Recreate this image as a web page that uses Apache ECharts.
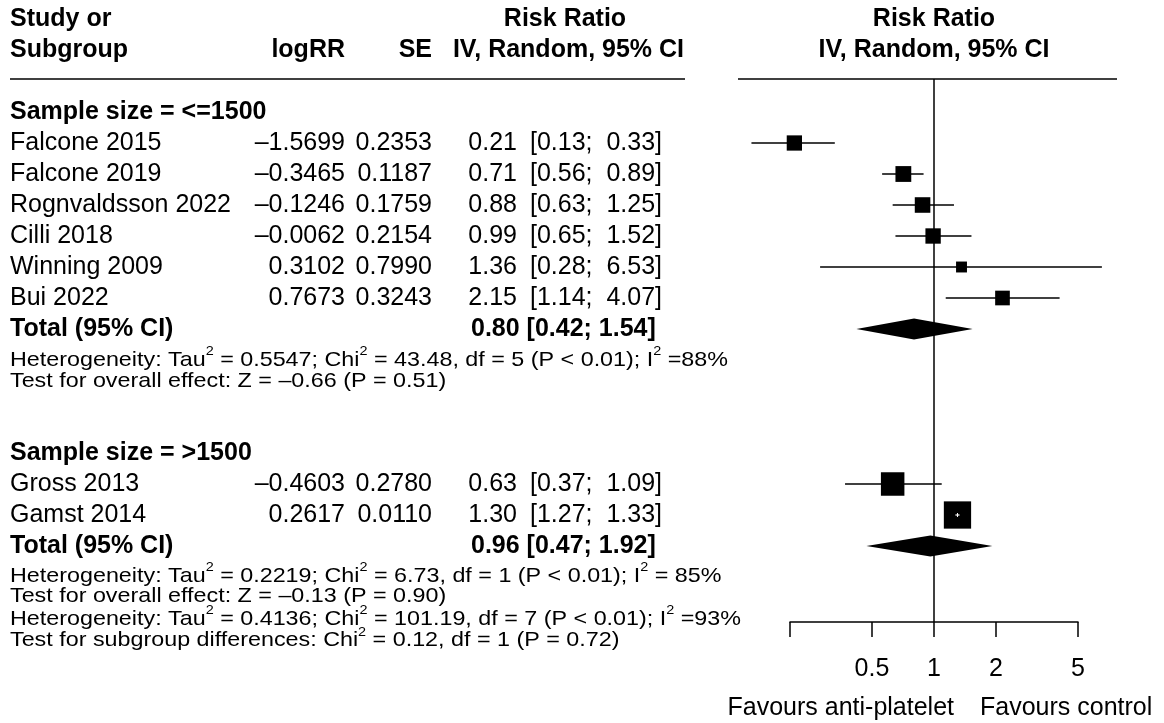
<!DOCTYPE html>
<html>
<head>
<meta charset="utf-8">
<title>Forest plot</title>
<script src="https://cdn.jsdelivr.net/npm/echarts@6/dist/echarts.min.js"></script>
<style>
  html, body { margin: 0; padding: 0; background: #fff; }
  #chart { width: 1164px; height: 723px; }
</style>
</head>
<body>
<div id="chart"></div>
<script>
// ---- data ----
const studyNames = ["Falcone 2015", "Falcone 2019", "Rognvaldsson 2022", "Cilli 2018",
  "Winning 2009", "Bui 2022", "Gross 2013", "Gamst 2014"];
const studyGroup = [0, 0, 0, 0, 0, 0, 1, 1];
const logRR = [-1.5699, -0.3465, -0.1246, -0.0062, 0.3102, 0.7673, -0.4603, 0.2617];
const seLogRR = [0.2353, 0.1187, 0.1759, 0.2154, 0.7990, 0.3243, 0.2780, 0.0110];
const riskRatio = [0.21, 0.71, 0.88, 0.99, 1.36, 2.15, 0.63, 1.30];
const ciLower = [0.13, 0.56, 0.63, 0.65, 0.28, 1.14, 0.37, 1.27];
const ciUpper = [0.33, 0.89, 1.25, 1.52, 6.53, 4.07, 1.09, 1.33];
// weight within subgroup (%)
const weightPct = [18.0, 19.3, 18.7, 18.2, 9.2, 16.6, 42.6, 57.4];

const groupLabels = ["Sample size = <=1500", "Sample size = >1500"];
const pooledRR = [0.80, 0.96];
const pooledLower = [0.42, 0.47];
const pooledUpper = [1.54, 1.92];

const groupNotes = [
  ["Heterogeneity: Tau{s|2} = 0.5547; Chi{s|2} = 43.48, df = 5 (P < 0.01); I{s|2} =88%",
   "Test for overall effect: Z = \u20130.66 (P = 0.51)"],
  ["Heterogeneity: Tau{s|2} = 0.2219; Chi{s|2} = 6.73, df = 1 (P < 0.01); I{s|2} = 85%",
   "Test for overall effect: Z = \u20130.13 (P = 0.90)"]
];
const overallNotes = [
  "Heterogeneity: Tau{s|2} = 0.4136; Chi{s|2} = 101.19, df = 7 (P < 0.01); I{s|2} =93%",
  "Test for subgroup differences: Chi{s|2} = 0.12, df = 1 (P = 0.72)"
];

const tickValues = [0.2, 0.5, 1, 2, 5];
const tickLabels = [0.5, 1, 2, 5];
const favourLabels = ["Favours anti-platelet", "Favours control"];

// ---- layout ----
const FONT = "'Liberation Sans', Arial, Helvetica, sans-serif";
const ROW_MIN = -33 / 31;   // header rule sits at the top of the grid
const ROW_MAX = 510 / 31;   // x axis at the bottom of the grid
const COL = { name: 10, logRR: 345, se: 432, est: 517, lo: 530, hi: 662, pooled: 471 };
const groupStart = [0, 11];
const noteOffset = [[1.0, 1.68], [0.97, 1.62]];
const NOTE_SIZE = 21, NOTE_STRETCH = 1.11;

function fmtSigned(v, d) {
  const s = Math.abs(v).toFixed(d);
  return v < 0 ? "\u2013" + s : s;
}

// table rows: each row has a vertical position r and a list of text cells
const tableRows = [];
tableRows.push({ r: ROW_MIN, rule: true, cells: [] });
tableRows.push({ r: -3, cells: [
  { x: COL.name, text: "Study or", bold: true },
  { x: 565, text: "Risk Ratio", bold: true, align: "center" },
  { x: 934, text: "Risk Ratio", bold: true, align: "center" }
] });
tableRows.push({ r: -2, cells: [
  { x: COL.name, text: "Subgroup", bold: true },
  { x: COL.logRR, text: "logRR", bold: true, align: "right" },
  { x: COL.se, text: "SE", bold: true, align: "right" },
  { x: 684, text: "IV, Random, 95% CI", bold: true, align: "right" },
  { x: 934, text: "IV, Random, 95% CI", bold: true, align: "center" }
] });

const studyRow = [];
const pooledRow = [];
groupLabels.forEach((label, g) => {
  const start = groupStart[g];
  tableRows.push({ r: start, cells: [{ x: COL.name, text: label, bold: true }] });
  let k = 0;
  studyNames.forEach((name, i) => {
    if (studyGroup[i] !== g) return;
    k++;
    const r = start + k;
    studyRow[i] = r;
    tableRows.push({ r: r, cells: [
      { x: COL.name, text: name },
      { x: COL.logRR, text: fmtSigned(logRR[i], 4), align: "right" },
      { x: COL.se, text: seLogRR[i].toFixed(4), align: "right" },
      { x: COL.est, text: riskRatio[i].toFixed(2), align: "right" },
      { x: COL.lo, text: "[" + ciLower[i].toFixed(2) + ";" },
      { x: COL.hi, text: ciUpper[i].toFixed(2) + "]", align: "right" }
    ] });
  });
  const tr = start + k + 1;
  pooledRow[g] = tr;
  tableRows.push({ r: tr, cells: [
    { x: COL.name, text: "Total (95% CI)", bold: true },
    { x: COL.pooled, text: pooledRR[g].toFixed(2) + " [" + pooledLower[g].toFixed(2) + "; " +
        pooledUpper[g].toFixed(2) + "]", bold: true }
  ] });
  tableRows.push({ r: tr + noteOffset[g][0], cells: [{ x: COL.name, text: groupNotes[g][0], note: true }] });
  tableRows.push({ r: tr + noteOffset[g][1], cells: [{ x: COL.name, text: groupNotes[g][1], note: true }] });
});
tableRows.push({ r: 16.35, cells: [{ x: COL.name, text: overallNotes[0], note: true }] });
tableRows.push({ r: 17.05, cells: [{ x: COL.name, text: overallNotes[1], note: true }] });
tableRows.push({ r: 19.23, cells: [
  { x: 954, text: favourLabels[0], align: "right" },
  { x: 980, text: favourLabels[1] }
] });

function renderTable(params, api) {
  const row = tableRows[params.dataIndex];
  const y = api.coord([0, row.r])[1];
  const children = [];
  if (row.rule) {
    [[10, 685], [738, 1117]].forEach(seg => {
      children.push({ type: "line", shape: { x1: seg[0], y1: y, x2: seg[1], y2: y },
        style: { stroke: "#000", lineWidth: 1.5 } });
    });
  }
  row.cells.forEach(c => {
    const size = c.note ? NOTE_SIZE : 25;
    children.push({
      type: "text", x: c.x, y: y,
      scaleX: c.note ? NOTE_STRETCH : 1,
      style: {
        text: c.text, fill: "#000", fontFamily: FONT, fontSize: size,
        fontWeight: c.bold ? "bold" : "normal",
        align: c.align || "left", verticalAlign: "middle",
        lineHeight: c.note ? 30 : size,
        rich: { s: { fontSize: 13, lineHeight: 13, verticalAlign: "top", fill: "#000", fontFamily: FONT } }
      }
    });
  });
  return { type: "group", children: children };
}

function renderStudy(params, api) {
  const r = api.value(3);
  const a = api.coord([api.value(0), r]);
  const b = api.coord([api.value(1), r]);
  const p = api.coord([api.value(2), r]);
  const s = 3.6 * Math.sqrt(api.value(4));
  const inside = a[0] >= p[0] - s / 2 && b[0] <= p[0] + s / 2;
  const children = [
    { type: "line", shape: { x1: a[0], y1: a[1], x2: b[0], y2: b[1] },
      style: { stroke: "#000", lineWidth: 1.5 } },
    { type: "rect", shape: { x: p[0] - s / 2, y: p[1] - s / 2, width: s, height: s },
      style: { fill: "#000" } }
  ];
  if (inside) {
    children.push({ type: "line", shape: { x1: a[0], y1: a[1], x2: b[0], y2: b[1] },
      style: { stroke: "#fff", lineWidth: 1.2 } });
    children.push({ type: "line", shape: { x1: p[0], y1: p[1] - 2, x2: p[0], y2: p[1] + 2 },
      style: { stroke: "#fff", lineWidth: 1 } });
  }
  return { type: "group", children: children };
}

function renderDiamond(params, api) {
  const r = api.value(3);
  const a = api.coord([api.value(0), r]);
  const b = api.coord([api.value(1), r]);
  const p = api.coord([api.value(2), r]);
  const h = 10.5;
  return {
    type: "polygon",
    shape: { points: [[a[0], p[1]], [p[0], p[1] - h], [b[0], p[1]], [p[0], p[1] + h]] },
    style: { fill: "#000" }
  };
}

const studyData = studyNames.map((n, i) => [
  Math.log10(ciLower[i]), Math.log10(ciUpper[i]), Math.log10(riskRatio[i]), studyRow[i], weightPct[i]
]);
const pooledData = pooledRR.map((v, g) => [
  Math.log10(pooledLower[g]), Math.log10(pooledUpper[g]), Math.log10(v), pooledRow[g]
]);

const chart = echarts.init(document.getElementById("chart"));
chart.setOption({
  animation: false,
  backgroundColor: "#fff",
  grid: { left: 790, right: 86, top: 79, bottom: 101 },
  xAxis: {
    type: "value",
    position: "bottom",
    min: Math.log10(tickValues[0]),
    max: Math.log10(tickValues[tickValues.length - 1]),
    axisLine: { show: true, onZero: false, lineStyle: { color: "#000", width: 1.5 } },
    axisTick: { show: true, length: 15, lineStyle: { color: "#000", width: 1.5 },
      customValues: tickValues.map(v => Math.log10(v)) },
    axisLabel: { show: true, margin: 35, color: "#000", fontSize: 25, fontFamily: FONT,
      customValues: tickLabels.map(v => Math.log10(v)),
      formatter: v => String(Number(Math.pow(10, v).toPrecision(2))) },
    splitLine: { show: false }
  },
  yAxis: { type: "value", inverse: true, min: ROW_MIN, max: ROW_MAX, show: false },
  series: [
    {
      type: "custom", name: "table", renderItem: renderTable, clip: false, silent: true,
      data: tableRows.map((row, i) => [0, row.r])
    },
    {
      type: "custom", name: "studies", renderItem: renderStudy, clip: false, silent: true,
      data: studyData,
      markLine: {
        silent: true, symbol: ["none", "none"], label: { show: false },
        lineStyle: { color: "#000", width: 1.5, type: "solid" },
        data: [{ xAxis: 0 }]
      }
    },
    {
      type: "custom", name: "pooled", renderItem: renderDiamond, clip: false, silent: true,
      data: pooledData
    }
  ]
});
</script>
</body>
</html>
